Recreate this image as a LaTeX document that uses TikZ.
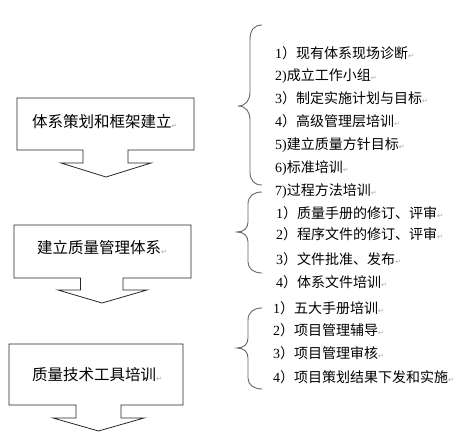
\documentclass[tikz,border=0pt]{standalone}
\usepackage{fontspec}
\setmainfont{Liberation Serif}
\newfontfamily\cjk{Noto Sans CJK SC}
\newfontfamily\dejavu{DejaVu Sans}
\newcommand\pmark{{\dejavu\fontsize{7pt}{7pt}\selectfont\color{gray!70}\raisebox{-0.5pt}{↵}}}
\tikzset{
  callout/.style={draw=black!85, line width=0.8pt, fill=white},
  brc/.style={draw=black!60, line width=0.9pt},
  boxtext/.style={anchor=west, inner sep=0pt, font=\cjk\fontsize{15.5pt}{16pt}\selectfont},
  item/.style={anchor=west, inner sep=0pt, font=\cjk\fontsize{14pt}{15pt}\selectfont},
}
\begin{document}
\begin{tikzpicture}[x=1pt,y=-1pt]
\useasboundingbox (0,0) rectangle (476,439);
% callout boxes
\draw[callout] (17,98) -- (194,98) -- (194,150) -- (128,150) -- (128,163) -- (151,163) -- (106,177) -- (61,163) -- (83,163) -- (83,150) -- (17,150) -- cycle;
\draw[callout] (14,225) -- (191,225) -- (191,278) -- (123,278) -- (123,290) -- (147,290) -- (102,303) -- (58,290) -- (80.5,290) -- (80.5,278) -- (14,278) -- cycle;
\draw[callout] (9,344) -- (183,344) -- (183,405) -- (121,405) -- (121,418) -- (144,418) -- (98.5,431) -- (53,418) -- (76,418) -- (76,405) -- (9,405) -- cycle;
\node[boxtext] (b1) at (32,122) {体系策划和框架建立\pmark};
\node[boxtext] (b2) at (37,248) {建立质量管理体系\pmark};
\node[boxtext] (b3) at (32,375) {质量技术工具培训\pmark};
% braces
\draw[brc] (262,25) .. controls (254,25) and (250,30) .. (250,40) -- (250,92) .. controls (250,100) and (246,106) .. (238,106) .. controls (246,106) and (250,112) .. (250,120) -- (250,172) .. controls (250,180) and (254,185) .. (262,185);
\draw[brc] (262,192) .. controls (254,192) and (248,196) .. (248,204) -- (248,222) .. controls (248,228) and (244,232) .. (237,232) .. controls (244,232) and (248,236) .. (248,242) -- (248,262) .. controls (248,269) and (254,273) .. (262,273);
\draw[brc] (262,308) .. controls (254,308) and (248,312) .. (248,320) -- (248,338) .. controls (248,344) and (244,348) .. (237,348) .. controls (244,348) and (248,352) .. (248,358) -- (248,378) .. controls (248,385) and (254,389) .. (262,389);
% items
\node[item] (i1) at (275,53) {\textrm{1}）现有体系现场诊断\pmark};
\node[item] (i2) at (275,76) {\textrm{2)}成立工作小组\pmark};
\node[item] (i3) at (275,98) {\textrm{3}）制定实施计划与目标\pmark};
\node[item] (i4) at (275,121) {\textrm{4}）高级管理层培训\pmark};
\node[item] (i5) at (275,145) {\textrm{5)}建立质量方针目标\pmark};
\node[item] (i6) at (275,168) {\textrm{6)}标准培训\pmark};
\node[item] (i7) at (275,191) {\textrm{7)}过程方法培训\pmark};
\node[item] (j1) at (276,213) {\textrm{1}）质量手册的修订、评审\pmark};
\node[item] (j2) at (276,234) {\textrm{2}）程序文件的修订、评审\pmark};
\node[item] (j3) at (276,259) {\textrm{3}）文件批准、发布\pmark};
\node[item] (j4) at (276,282) {\textrm{4}）体系文件培训\pmark};
\node[item] (k1) at (273,308) {\textrm{1}）五大手册培训\pmark};
\node[item] (k2) at (273,330) {\textrm{2}）项目管理辅导\pmark};
\node[item] (k3) at (273,353) {\textrm{3}）项目管理审核\pmark};
\node[item] (k4) at (273,377) {\textrm{4}）项目策划结果下发和实施\pmark};
\end{tikzpicture}
\end{document}
